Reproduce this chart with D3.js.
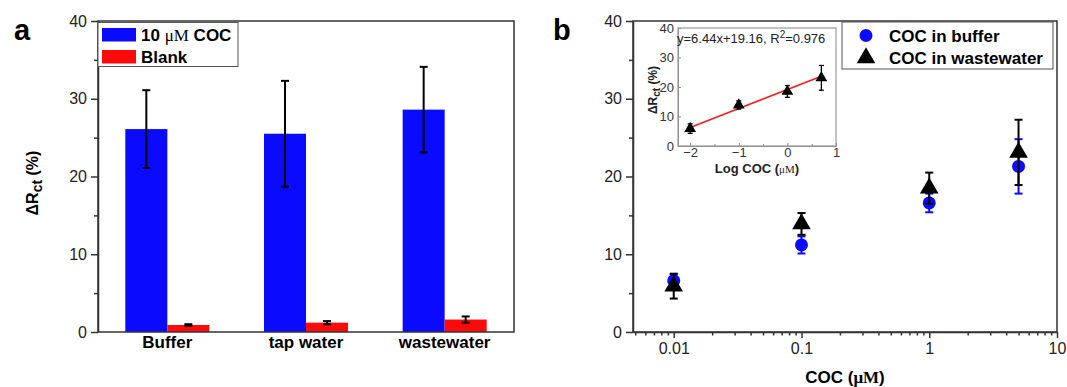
<!DOCTYPE html>
<html>
<head>
<meta charset="utf-8">
<script src="https://cdn.jsdelivr.net/npm/d3@7"></script>
<style>
  body { margin: 0; background: #fff; }
  svg { display: block; font-family: "Liberation Sans", Arial, sans-serif; }
  .axis path, .axis line { stroke: #333; stroke-width: 1.5; }
  .axis text { font-size: 16px; fill: #222; }
  .inset path, .inset line { stroke: #888; stroke-width: 1; }
  .inset text { font-size: 13px; fill: #333; }
</style>
</head>
<body>
<svg id="chart" width="1067" height="387"></svg>
<script>
// panel a data
const categories = ['Buffer', 'tap water', 'wastewater'];
const cocValues = [26.1, 25.5, 28.6];
const cocErrors = [5.0, 6.8, 5.5];
const blankValues = [0.9, 1.2, 1.6];
const blankErrors = [0.1, 0.2, 0.4];
const seriesA = ['10 μM COC', 'Blank'];
const colorsA = ['#0a0aff', '#ff0a0a'];

// panel b data
const concentrations = [0.01, 0.1, 1, 5];
const bufferValues = [6.6, 11.2, 16.6, 21.3];
const bufferErrors = [0.8, 1.1, 1.2, 3.5];
const wasteValues = [5.9, 13.9, 18.5, 23.1];
const wasteErrors = [1.6, 1.4, 2.0, 4.2];
const yTicks = [0, 10, 20, 30, 40];
const yMinor = [5, 15, 25, 35];
const xTicksB = [0.01, 0.1, 1, 10];

// inset fit
const fitSlope = 6.44;
const fitIntercept = 19.16;
const insetXTicks = [-2, -1, 0, 1];
const insetXMinor = [-1.5, -0.5, 0.5];

const svg = d3.select('#chart');

// ---------- panel a ----------
const plotA = { left: 98, right: 514, top: 21, bottom: 332 };
const xA = d3.scaleBand().domain(categories).range([plotA.left, plotA.right]).padding(0);
const bw = xA.bandwidth();
const xSub = d3.scaleBand().domain(seriesA).range([bw * 0.197, bw * 0.803]).padding(0);
const yA = d3.scaleLinear().domain([0, 40]).range([plotA.bottom, plotA.top]);

const dataA = categories.map((c, i) => ({
  cat: c,
  vals: [
    { s: seriesA[0], v: cocValues[i], e: cocErrors[i], c: colorsA[0] },
    { s: seriesA[1], v: blankValues[i], e: blankErrors[i], c: colorsA[1] }
  ]
}));

const groups = svg.append('g').selectAll('g').data(dataA).join('g')
  .attr('transform', d => `translate(${xA(d.cat)},0)`);
groups.selectAll('rect').data(d => d.vals).join('rect')
  .attr('x', d => xSub(d.s))
  .attr('width', xSub.bandwidth())
  .attr('y', d => yA(d.v))
  .attr('height', d => yA(0) - yA(d.v))
  .attr('fill', d => d.c);

// error bars
groups.selectAll('g.err').data(d => d.vals).join('g').attr('class', 'err')
  .each(function (d) {
    const g = d3.select(this);
    const cx = xSub(d.s) + xSub.bandwidth() / 2;
    g.append('line').attr('x1', cx).attr('x2', cx)
      .attr('y1', yA(d.v + d.e)).attr('y2', yA(d.v - d.e))
      .attr('stroke', '#000').attr('stroke-width', 2);
    [d.v + d.e, d.v - d.e].forEach(v => {
      g.append('line').attr('x1', cx - 4).attr('x2', cx + 4)
        .attr('y1', yA(v)).attr('y2', yA(v))
        .attr('stroke', '#000').attr('stroke-width', 2);
    });
  });

// axes a
svg.append('g').attr('class', 'axis')
  .attr('transform', `translate(${plotA.left},0)`)
  .call(d3.axisLeft(yA).tickValues(yTicks).tickSize(7).tickPadding(4).tickSizeOuter(0));
svg.append('g').attr('class', 'axis')
  .attr('transform', `translate(${plotA.left},0)`)
  .call(d3.axisLeft(yA).tickValues(yMinor).tickSize(4).tickFormat(''))
  .call(g => g.select('.domain').remove());
svg.append('rect')
  .attr('x', plotA.left).attr('y', plotA.top)
  .attr('width', plotA.right - plotA.left).attr('height', plotA.bottom - plotA.top)
  .attr('fill', 'none').attr('stroke', '#333').attr('stroke-width', 1.5);

svg.append('g').selectAll('text').data(categories).join('text')
  .attr('x', d => xA(d) + bw / 2)
  .attr('y', 348)
  .attr('text-anchor', 'middle')
  .attr('font-size', 17).attr('font-weight', 'bold')
  .text(d => d);

function deltaLabel(sel, size, subSize, shift) {
  sel.append('tspan').text('ΔR');
  sel.append('tspan').attr('font-size', subSize).attr('dy', shift).text('ct');
  sel.append('tspan').attr('dy', -shift).text(' (%)');
  return sel;
}

svg.append('text')
  .attr('transform', 'translate(38,183) rotate(-90)')
  .attr('text-anchor', 'middle')
  .attr('font-size', 16).attr('font-weight', 'bold')
  .call(s => deltaLabel(s, 16, 14, 4));

// legend a
const legA = svg.append('g');
legA.append('rect').attr('x', 98).attr('y', 22.5).attr('width', 140).attr('height', 44)
  .attr('fill', '#fff').attr('stroke', '#555').attr('stroke-width', 1);
seriesA.forEach((s, i) => {
  legA.append('rect').attr('x', 102).attr('y', 28 + i * 22).attr('width', 34).attr('height', 13.5)
    .attr('fill', colorsA[i]);
});
const legT1 = legA.append('text').attr('x', 141).attr('y', 41).attr('font-size', 17).attr('font-weight', 'bold');
legT1.append('tspan').text('10 ');
legT1.append('tspan').attr('font-family', '"Liberation Serif", "Times New Roman", serif').attr('font-weight', 'normal').text('μM');
legT1.append('tspan').text(' COC');
legA.append('text').attr('x', 141).attr('y', 63).attr('font-size', 17).attr('font-weight', 'bold').text(seriesA[1]);

svg.append('text').attr('x', 14).attr('y', 40).attr('font-size', 29).attr('font-weight', 'bold').text('a');

// ---------- panel b ----------
const plotB = { left: 633, right: 1057, top: 21, bottom: 332 };
const xB = d3.scaleLog().domain([0.0048, 10]).range([plotB.left, plotB.right]);
const yB = d3.scaleLinear().domain([0, 40]).range([plotB.bottom, plotB.top]);

svg.append('g').attr('class', 'axis')
  .attr('transform', `translate(${plotB.left},0)`)
  .call(d3.axisLeft(yB).tickValues(yTicks).tickSize(7).tickPadding(4).tickSizeOuter(0));
svg.append('g').attr('class', 'axis')
  .attr('transform', `translate(${plotB.left},0)`)
  .call(d3.axisLeft(yB).tickValues(yMinor).tickSize(4).tickFormat(''))
  .call(g => g.select('.domain').remove());
svg.append('g').attr('class', 'axis')
  .attr('transform', `translate(0,${plotB.bottom})`)
  .call(d3.axisBottom(xB).tickValues(xTicksB).tickSize(6).tickPadding(5).tickSizeOuter(0)
    .tickFormat(d => d >= 1 ? d3.format('d')(d) : String(d)));
const minorB = xB.ticks().filter(t => Math.abs(Math.log10(t) - Math.round(Math.log10(t))) > 1e-6);
svg.append('g').attr('class', 'axis')
  .attr('transform', `translate(0,${plotB.bottom})`)
  .call(d3.axisBottom(xB).tickValues(minorB).tickSize(3.5).tickFormat(''))
  .call(g => g.select('.domain').remove());
svg.append('rect')
  .attr('x', plotB.left).attr('y', plotB.top)
  .attr('width', plotB.right - plotB.left).attr('height', plotB.bottom - plotB.top)
  .attr('fill', 'none').attr('stroke', '#333').attr('stroke-width', 1.5);

const xLabel = svg.append('text').attr('x', 845).attr('y', 383)
  .attr('text-anchor', 'middle').attr('font-size', 17).attr('font-weight', 'bold');
xLabel.append('tspan').text('COC (');
xLabel.append('tspan').attr('font-family', '"Liberation Serif", "Times New Roman", serif').text('μM');
xLabel.append('tspan').text(')');

svg.append('text').attr('x', 553).attr('y', 40).attr('font-size', 29).attr('font-weight', 'bold').text('b');

const triangle = d3.symbol().type(d3.symbolTriangle);

function errorBars(g, xs, ys, es, xScale, yScale, color, cap, width) {
  xs.forEach((x, i) => {
    const cx = xScale(x);
    const t = yScale(ys[i] + es[i]), b = yScale(ys[i] - es[i]);
    g.append('line').attr('x1', cx).attr('x2', cx).attr('y1', t).attr('y2', b)
      .attr('stroke', color).attr('stroke-width', width);
    [t, b].forEach(yy => g.append('line').attr('x1', cx - cap).attr('x2', cx + cap)
      .attr('y1', yy).attr('y2', yy).attr('stroke', color).attr('stroke-width', width));
  });
}

const bufG = svg.append('g');
errorBars(bufG, concentrations, bufferValues, bufferErrors, xB, yB, '#0a0aff', 4, 2);
bufG.selectAll('circle').data(concentrations).join('circle')
  .attr('cx', d => xB(d)).attr('cy', (d, i) => yB(bufferValues[i])).attr('r', 6.5)
  .attr('fill', '#0a0aff');

const wasteG = svg.append('g');
errorBars(wasteG, concentrations, wasteValues, wasteErrors, xB, yB, '#000', 4, 2);
wasteG.selectAll('path').data(concentrations).join('path')
  .attr('transform', (d, i) => `translate(${xB(d)},${yB(wasteValues[i])})`)
  .attr('d', triangle.size(150)())
  .attr('fill', '#000');

// legend b
const legB = svg.append('g');
legB.append('rect').attr('x', 842).attr('y', 22).attr('width', 211).attr('height', 47)
  .attr('fill', '#fff').attr('stroke', '#555').attr('stroke-width', 1);
legB.append('circle').attr('cx', 866).attr('cy', 35.5).attr('r', 6.5).attr('fill', '#0a0aff');
legB.append('path').attr('transform', 'translate(866,58)').attr('d', triangle.size(150)()).attr('fill', '#000');
legB.append('text').attr('x', 889).attr('y', 41.5).attr('font-size', 17).attr('font-weight', 'bold').text('COC in buffer');
legB.append('text').attr('x', 889).attr('y', 64).attr('font-size', 17).attr('font-weight', 'bold').text('COC in wastewater');

// ---------- inset ----------
const plotI = { left: 678, right: 836, top: 28, bottom: 146 };
const xI = d3.scaleLinear().domain([-2.25, 1]).range([plotI.left, plotI.right]);
const yI = d3.scaleLinear().domain([0, 40]).range([plotI.bottom, plotI.top]);

svg.append('g').attr('class', 'inset')
  .attr('transform', `translate(${plotI.left},0)`)
  .call(d3.axisLeft(yI).tickValues(yTicks).tickSize(-3).tickPadding(4).tickSizeOuter(0));
svg.append('g').attr('class', 'inset')
  .attr('transform', `translate(0,${plotI.bottom})`)
  .call(d3.axisBottom(xI).tickValues(insetXTicks).tickSize(-3).tickPadding(2).tickSizeOuter(0)
    .tickFormat(d3.format('d')));
svg.append('g').attr('class', 'inset')
  .attr('transform', `translate(0,${plotI.bottom})`)
  .call(d3.axisBottom(xI).tickValues(insetXMinor).tickSize(-2).tickFormat(''))
  .call(g => g.select('.domain').remove());
svg.append('rect')
  .attr('x', plotI.left).attr('y', plotI.top)
  .attr('width', plotI.right - plotI.left).attr('height', plotI.bottom - plotI.top)
  .attr('fill', 'none').attr('stroke', '#999').attr('stroke-width', 1.2);

const logConc = concentrations.map(c => Math.log10(c));
const fitEnds = [logConc[0], logConc[logConc.length - 1]];
svg.append('line')
  .attr('x1', xI(fitEnds[0])).attr('y1', yI(fitSlope * fitEnds[0] + fitIntercept))
  .attr('x2', xI(fitEnds[1])).attr('y2', yI(fitSlope * fitEnds[1] + fitIntercept))
  .attr('stroke', '#ff1a1a').attr('stroke-width', 1.5);

const insG = svg.append('g');
errorBars(insG, logConc, wasteValues, wasteErrors, xI, yI, '#000', 2.5, 1.3);
insG.selectAll('path').data(logConc).join('path')
  .attr('transform', (d, i) => `translate(${xI(d)},${yI(wasteValues[i])})`)
  .attr('d', triangle.size(60)())
  .attr('fill', '#000');

const eq = svg.append('text').attr('x', 677).attr('y', 43).attr('font-size', 13).attr('fill', '#222');
eq.append('tspan').text(`y=${fitSlope}x+${fitIntercept}, R`);
eq.append('tspan').attr('font-size', 10).attr('dy', -5).text('2');
eq.append('tspan').attr('dy', 5).text('=0.976');

svg.append('text')
  .attr('transform', 'translate(657,90) rotate(-90)')
  .attr('text-anchor', 'middle')
  .attr('font-size', 12).attr('font-weight', 'bold').attr('fill', '#222')
  .call(s => deltaLabel(s, 12, 10, 3));

const insX = svg.append('text').attr('x', 757).attr('y', 173)
  .attr('text-anchor', 'middle').attr('font-size', 13).attr('font-weight', 'bold').attr('fill', '#222');
insX.append('tspan').text('Log COC (');
insX.append('tspan').attr('font-family', '"Liberation Serif", "Times New Roman", serif').attr('font-weight', 'normal').attr('font-size', 11).text('μM');
insX.append('tspan').text(')');
</script>
</body>
</html>
